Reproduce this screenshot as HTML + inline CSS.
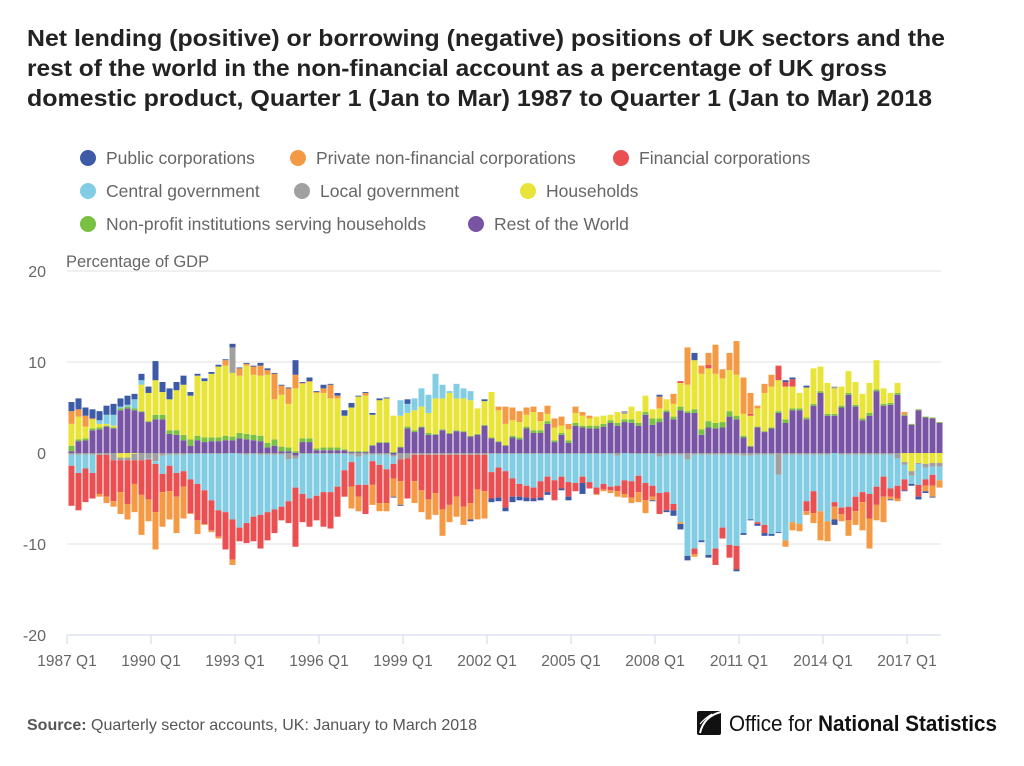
<!DOCTYPE html>
<html><head><meta charset="utf-8">
<style>
html,body{margin:0;padding:0;background:#fff;}
body{width:1024px;height:761px;overflow:hidden;font-family:"Liberation Sans",sans-serif;}
svg text{font-family:"Liberation Sans",sans-serif;}
</style></head>
<body>
<svg id="chart" width="1024" height="761" viewBox="0 0 1024 761" xmlns="http://www.w3.org/2000/svg">
<g font-weight="bold" font-size="23.5" fill="#222">
<text x="27" y="46" textLength="918" lengthAdjust="spacingAndGlyphs">Net lending (positive) or borrowing (negative) positions of UK sectors and the</text>
<text x="27" y="76" textLength="860" lengthAdjust="spacingAndGlyphs">rest of the world in the non-financial account as a percentage of UK gross</text>
<text x="27" y="106" textLength="905" lengthAdjust="spacingAndGlyphs">domestic product, Quarter 1 (Jan to Mar) 1987 to Quarter 1 (Jan to Mar) 2018</text>
</g>
<g id="legend" font-size="17.5" fill="#666"></g>
<g id="grid"></g>
<g id="bars"></g>
<g id="axes"></g>
<text x="66" y="267" font-size="16.5" fill="#666">Percentage of GDP</text>
<text x="27" y="730" font-size="16" fill="#555"><tspan font-weight="bold">Source:</tspan> Quarterly sector accounts, UK: January to March 2018</text>
<g>
<rect x="697" y="711" width="24" height="24" fill="#111" rx="2"/>
<path d="M700 733 Q704 716 721 712" stroke="#fff" stroke-width="2" fill="none"/>
<path d="M700 724 Q705 718 712 714" stroke="#fff" stroke-width="1.2" fill="none"/>
<text x="729" y="731" font-size="22" fill="#111" textLength="268" lengthAdjust="spacingAndGlyphs">Office for <tspan font-weight="bold">National Statistics</tspan></text>
</g>
</svg>
<script>
const seriesNames = ["Public corporations","Private non-financial corporations","Financial corporations","Central government","Local government","Households","Non-profit institutions serving households","Rest of the World"];
const pc = [1.0,1.2,0.9,1.0,1.0,1.0,1.2,0.9,1.0,0.6,0.7,0.7, 2.1,1.1,1.2,0.9,1.0,0.4,0.2,0.3,0.2,0.2,0.1,0.4, 0.1,0.1,0.1,0.3,0.2,0.1,0.1,0.1,1.6,0.1,0.4,0.1, 0.4,0.1,0.3,0.6,0.5,0.1,0.1,0.2,0.2,0.1,-0.1,-0.1, 0.5,0,0,0,0,0,0,0,0,-0.2,0,0.2, -0.4,-0.4,-0.4,-0.6,-0.4,-0.4,-0.3,-0.3,-0.3,0,-0.2,-0.4, 0,-1.2,0,0,0,0,0,0,0,0,0,-0.1, 0.2,-0.2,-0.6,-0.6,-0.5,0.8,-0.2,-0.3,0,0,0,-0.2, -0.2,-0.1,-0.2,-0.3,-0.2,-0.1,0.2,0.2,0,0.2,0,0, 0,-0.6,0,0,0,0,0,0,0,-0.1,0,-0.1, -0.2,-0.3,-0.2,-0.1,0];
const pnfc = [1.4,0.8,1.2,0.1,-0.3,-0.7,-0.6,-2.4,-1.7,-3.1,-4.4,-2.4, -4.1,-3.8,-3.1,-4.0,-3.5,-0.1,-1.5,-0.1,-0.2,-0.2,0.6,-0.6, 0.8,0.2,0.9,1.1,0.5,2.8,1.0,1.7,1.5,0.1,0.1,0.1, 0.5,1.5,0.3,0,-2.4,-1.6,0.3,-2.2,-0.9,-0.9,-2.0,-2.6, 0,-2.4,-2.4,-2.2,-2.4,-2.9,-1.9,-2.2,-2.0,-1.8,-3.3,-3.0, 0,0.4,1.9,1.4,1.2,0.8,0.6,1.0,0.9,1.0,1.0,0.6, 0.7,0.4,0.3,-0.1,-0.2,-0.3,-0.6,-0.4,-0.6,-1.1,-1.4,-0.4, 1.3,0,1.1,-0.2,4.1,-0.3,0.9,1.3,3.2,1.0,1.9,3.7, 4.0,2.3,0.3,1.0,1.3,0,-0.7,-0.9,-0.8,-0.4,-1.1,-3.2, -2.2,-1.4,-0.8,-1.7,-1.5,-3.1,-3.3,-1.7,-2.8,-0.3,-0.3,0.3, 0,0,-0.6,-1.2,-0.8];
const fc = [-4.4,-4.1,-3.7,-2.8,-4.3,-4.6,-4.5,-3.5,-4.8,-2.6,-3.8,-4.4, -5.3,-2.0,-2.8,-2.6,-1.7,-3.7,-4.0,-3.7,-3.3,-2.9,-4.1,-4.4, -1.5,-2.2,-2.7,-3.7,-3.1,-2.6,-1.5,-2.4,-6.5,-3.1,-3.1,-2.7, -3.8,-4.0,-3.3,-2.9,-2.7,-1.3,-3.2,-2.6,-4.2,-3.7,-1.6,-2.4, -4.4,-2.9,-3.9,-4.9,-4.2,-6.0,-5.5,-4.6,-5.7,-5.3,-3.8,-4.0, -2.9,-3.3,-4.0,-2.0,-1.4,-1.3,-1.2,-1.8,-1.7,-2.2,-1.3,-1.6, -0.9,-0.7,-0.7,-0.7,-0.6,-0.4,-0.6,-1.5,-1.8,-1.8,-1.9,-1.2, -2.3,-2.0,-0.7,0.2,0,-0.6,0,0.4,-1.8,-1.2,-1.4,-2.6, 0,0.2,-0.2,-0.9,0,1.6,0.5,0.8,0,-1.1,-2.4,0, 0,-0.5,-0.7,-1.5,-1.6,-1.1,-2.7,-2.0,-2.2,-0.9,-1.4,-1.2, 0,-1.3,-0.7,-1.2,0];
const cg = [-1.2,-2.0,-1.5,-2.0,0.4,1.0,1.2,0.2,0.2,1.0,0.5,-0.1, -0.3,-2.0,-1.2,-2.0,-1.8,-2.8,-3.3,-4.0,-5.1,-6.2,-6.4,-7.3, -8.1,-7.5,-6.9,-6.6,-6.3,-6.0,-5.7,-4.6,-3.2,-4.4,-4.9,-4.6, -4.2,-4.2,-3.6,-1.8,-0.8,-3.1,-3.3,-0.7,-1.1,-1.6,-0.8,1.7, 1.0,1.3,2.0,2.0,2.7,1.5,0.2,1.6,1.1,1.0,0,0, -2.0,-1.5,-1.9,-2.7,-3.3,-3.5,-3.7,-3.0,-2.5,-2.9,-2.5,-3.1, -3.2,-2.5,-3.1,-3.7,-3.3,-3.6,-3.3,-3.0,-3.0,-2.4,-3.2,-3.5, -4.0,-4.1,-5.4,-7.4,-10.6,-10.3,-9.4,-11.0,-10.3,-8.0,-9.9,-10.0, -8.5,-7.0,-7.4,-7.7,-8.7,-6.3,-9.4,-7.4,-7.6,-5.1,-4.0,-6.2, -7.3,-5.4,-5.8,-5.7,-4.6,-4.1,-4.3,-3.5,-2.4,-3.7,-3.0,-1.6, -0.9,-2.3,-1.3,-0.9,-1.5];
const lg = [-0.2,-0.2,-0.2,-0.2,-0.2,-0.2,-0.8,-0.3,-0.3,-0.7,-0.8,-0.6, -0.9,-0.3,-0.2,-0.2,-0.2,-0.1,-0.1,-0.1,-0.1,-0.1,-0.1,2.8, -0.1,-0.2,-0.1,-0.2,-0.2,-0.2,-0.2,-0.7,-0.3,-0.1,-0.1,-0.1, -0.1,-0.1,-0.1,-0.1,-0.2,-0.4,-0.2,-0.2,-0.2,-0.2,-0.2,-0.7, -0.6,-0.2,-0.2,-0.2,-0.2,-0.2,-0.2,-0.2,-0.2,-0.2,-0.2,-0.2, -0.1,-0.1,-0.1,-0.1,-0.1,-0.1,-0.1,-0.1,-0.1,-0.1,-0.1,-0.1, -0.1,-0.1,-0.1,-0.1,-0.1,-0.1,-0.3,0.3,-0.1,-0.1,-0.1,-0.1, -0.4,-0.2,-0.2,-0.2,-0.7,-0.2,-0.2,-0.2,-0.2,-0.2,-0.2,-0.2, -0.3,-0.3,-0.2,-0.2,-0.2,-2.4,-0.2,-0.2,-0.2,-0.2,-0.2,-0.2, -0.2,0.2,-0.2,-0.2,-0.2,-0.2,-0.2,-0.2,-0.2,-0.2,-0.6,-0.3, -0.5,-0.1,-0.4,-0.4,-0.4];
const hh = [2.4,2.5,1.3,1.0,0.4,0.2,0.2,-0.5,-0.5,-0.1,2.9,3.1, 3.8,2.5,3.4,4.4,5.5,4.8,6.6,6.2,7.0,7.8,7.7,7.0, 6.3,7.5,6.6,6.6,7.5,4.4,5.7,4.8,6.9,6.0,6.2,6.1, 6.0,5.4,5.4,3.7,4.8,6.0,6.1,3.3,4.6,4.8,4.0,3.4, 1.5,2.2,2.2,2.2,3.9,3.4,4.4,3.5,3.6,3.9,2.8,2.6, 5.0,3.4,2.3,1.7,1.7,1.3,2.0,1.0,0.8,1.4,0.8,1.2, 1.1,1.1,0.8,1.0,0.9,0.6,1.2,0.6,1.4,1.3,1.8,1.0, 1.1,1.2,1.4,2.6,2.9,5.4,6.1,5.8,5.4,4.8,4.5,4.5, 2.4,3.3,2.0,4.2,4.5,3.4,3.6,2.4,1.7,3.3,3.9,2.7, 3.4,2.8,2.1,2.4,2.5,2.7,3.3,3.2,1.7,1.1,1.1,-1.0, -2.0,-1.1,-1.2,-1.1,-1.1];
const npish = [0.6,0.2,0.2,0.2,0.2,0.1,0.1,0.2,0.2,0.2,0.1,0.1, 0.5,0.5,0.4,0.5,0.6,0.7,0.5,0.5,0.4,0.4,0.5,0.4, 0.6,0.6,0.6,0.6,0.5,0.7,0.5,0.4,0.2,0.4,0.4,0.2, 0.3,0.3,0.3,0.1,0.1,0.1,0.1,0.1,0.1,0.1,0.1,0.1, 0.2,0.2,0.1,0.2,0.1,0.1,0.1,0.1,0.1,0.1,0.1,0.1, 0.1,0.1,0.1,0.2,0.2,0.2,0.3,0.3,0.3,0.2,0.2,0.3, 0.3,0.2,0.3,0.3,0.3,0.3,0.3,0.3,0.4,0.3,0.3,0.7, 0.4,0.2,0.3,0.4,0.2,0.4,0.6,0.7,0.6,0.6,0.6,0.4, 0.2,0.1,0.1,0.1,0.1,0.2,0.4,0.2,0.2,0.2,0.2,0.2, 0.2,0.2,0.2,0.2,0.2,0.2,0.3,0.2,0.2,0.2,0.2,0.1, 0.1,0.1,0.1,0.1,0.1];
const row = [0.2,1.3,1.4,2.5,2.6,2.9,2.7,4.7,4.9,4.7,4.5,3.4, 3.7,3.7,2.1,2.0,1.4,0.8,1.4,1.2,1.3,1.3,1.4,1.4, 1.6,1.5,1.4,1.3,0.6,0.8,0.2,0.2,-0.3,1.2,1.2,0.3, 0.3,0.3,0.3,0.3,0.1,0.1,0.1,0.8,1.1,1.1,-0.2,0.6, 2.7,2.3,2.8,2.0,2.0,2.5,2.1,2.4,2.3,1.8,2.0,3.0, 1.6,1.2,0.8,1.7,1.5,2.7,2.2,2.2,3.2,1.2,2.0,1.1, 3.0,2.8,2.7,2.7,2.9,3.3,3.0,3.4,3.3,3.0,4.2,3.1, 3.4,4.5,3.7,4.7,4.4,4.4,2.0,2.8,2.7,2.8,4.0,3.7, 1.7,0.7,2.8,2.3,2.7,4.4,3.3,4.7,4.7,3.7,5.2,6.6, 4.1,4.1,5.0,6.4,5.1,3.6,4.1,6.8,5.2,5.3,6.4,4.1, 3.1,4.7,3.9,3.8,3.3];
const yTicks = [20,10,0,-10,-20];
const xTickLabels = ["1987 Q1","1990 Q1","1993 Q1","1996 Q1","1999 Q1","2002 Q1","2005 Q1","2008 Q1","2011 Q1","2014 Q1","2017 Q1"];

const NS="http://www.w3.org/2000/svg";
const colors=["#3c5aa6","#f59a44","#ea4f51","#82cde3","#a0a0a0","#e9e43a","#7ac043","#7954a5"];
const X0=67, SLOT=7.0, Y0=453, UNIT=9.1;
function xPos(i){return X0+SLOT*i;}
function yPos(v){return Y0-v*UNIT;}
function mk(tag,attrs,parent){const e=document.createElementNS(NS,tag);for(const k in attrs)e.setAttribute(k,attrs[k]);parent.appendChild(e);return e;}

const legend=document.getElementById('legend');
const legPos=[[88,158],[298,158],[621,158],[88,191],[302,191],[528,191],[88,224],[476,224]];
seriesNames.forEach((n,k)=>{
  const g=mk('g',{},legend);
  
  
  mk('circle',{cx:legPos[k][0],cy:legPos[k][1],r:8,fill:colors[k]},g);
  const t=mk('text',{x:legPos[k][0]+18,y:legPos[k][1]+6},g);
  t.textContent=n;
});

const grid=document.getElementById('grid'), axes=document.getElementById('axes');
yTicks.forEach(v=>{
  const l=mk('line',{x1:67,x2:941,y1:yPos(v),y2:yPos(v),stroke:v===-20?'#ccd6eb':'#e0e0e0','stroke-width':1},grid);
  
  
  const t=mk('text',{x:46,y:yPos(v)+6,'text-anchor':'end','font-size':16,fill:'#666'},axes);
  
  
  t.textContent=v;
});
xTickLabels.forEach((lab,k)=>{
  const x=xPos(k*12);
  const tk=mk('line',{x1:x,x2:x,y1:yPos(-20),y2:yPos(-20)+9,stroke:'#ccd6eb'},axes);
  
  
  const t=mk('text',{x:x,y:666,'text-anchor':'middle','font-size':15.5,fill:'#666'},axes);
  
  
  t.textContent=lab;
});

const series=[pc,pnfc,fc,cg,lg,hh,npish,row];
const bars=document.getElementById('bars');
for(let i=0;i<row.length;i++){
  let pos=0,neg=0;
  const cx=xPos(i)+4.5;
  for(let k=series.length-1;k>=0;k--){
    const v=series[k][i];
    if(!v)continue;
    let y1,y2;
    if(v>0){y1=pos;y2=pos+v;pos=y2;}else{y1=neg;y2=neg+v;neg=y2;}
    const top=yPos(Math.max(y1,y2)), bot=yPos(Math.min(y1,y2));
    const r=mk('rect',{x:cx-3,y:top,width:6,height:Math.max(bot-top,0.5),fill:colors[k]},bars);
    
    
  }
}
</script>
</body></html>
